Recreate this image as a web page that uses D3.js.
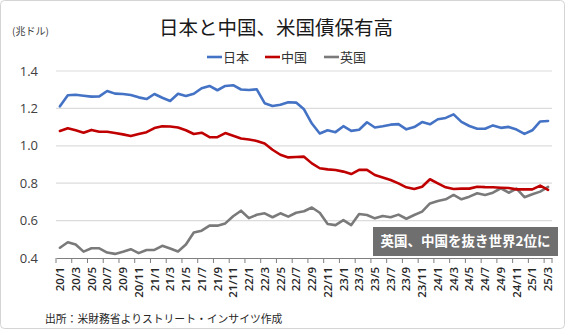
<!DOCTYPE html>
<html lang="ja">
<head>
<meta charset="utf-8">
<script src="https://cdn.jsdelivr.net/npm/d3@7/dist/d3.min.js"></script>
<style>
  html, body { margin: 0; padding: 0; background: #fff; }
  svg { display: block; font-family: "Noto Sans CJK JP", "Noto Sans", sans-serif; }
</style>
</head>
<body>
<svg id="chart" width="565" height="329"></svg>
<script>
// Monthly holdings of US Treasuries (trillion USD), 2020/1 – 2025/3
const months = [];
for (let yr = 20; yr <= 25; yr++) {
  for (let m = 1; m <= 12; m++) {
    if (yr === 25 && m > 3) break;
    months.push(yr + "/" + m);
  }
}

const japan = [
  1.211, 1.270, 1.273, 1.268, 1.263, 1.264, 1.293, 1.279, 1.277, 1.272, 1.259, 1.250,
  1.277, 1.257, 1.240, 1.278, 1.266, 1.278, 1.308, 1.320, 1.297, 1.320, 1.324, 1.301,
  1.298, 1.302, 1.228, 1.213, 1.220, 1.233, 1.231, 1.195, 1.119, 1.066, 1.083, 1.073,
  1.105, 1.080, 1.086, 1.126, 1.098, 1.105, 1.113, 1.116, 1.088, 1.100, 1.127, 1.115,
  1.142, 1.149, 1.168, 1.128, 1.106, 1.091, 1.091, 1.109, 1.096, 1.101, 1.087, 1.064,
  1.083, 1.130, 1.133
];
const china = [
  1.079, 1.094, 1.083, 1.070, 1.085, 1.075, 1.075, 1.068, 1.061, 1.052, 1.063, 1.073,
  1.095, 1.104, 1.103, 1.098, 1.083, 1.063, 1.070, 1.046, 1.046, 1.068, 1.054, 1.039,
  1.034, 1.026, 1.012, 0.979, 0.952, 0.938, 0.940, 0.942, 0.906, 0.880, 0.874, 0.871,
  0.862, 0.849, 0.871, 0.871, 0.844, 0.831, 0.817, 0.799, 0.778, 0.769, 0.781, 0.821,
  0.799, 0.778, 0.769, 0.771, 0.771, 0.781, 0.779, 0.778, 0.776, 0.774, 0.767, 0.767,
  0.767, 0.787, 0.764
];
const uk = [
  0.455, 0.484, 0.472, 0.434, 0.452, 0.452, 0.429, 0.422, 0.433, 0.447, 0.426, 0.443,
  0.443, 0.465, 0.451, 0.435, 0.472, 0.536, 0.546, 0.573, 0.573, 0.585, 0.623, 0.653,
  0.613, 0.631, 0.639, 0.618, 0.639, 0.621, 0.642, 0.650, 0.670, 0.642, 0.582, 0.576,
  0.603, 0.576, 0.635, 0.630, 0.612, 0.625, 0.618, 0.632, 0.610, 0.630, 0.648, 0.692,
  0.705, 0.714, 0.737, 0.714, 0.728, 0.746, 0.737, 0.749, 0.773, 0.749, 0.771, 0.725,
  0.741, 0.755, 0.780
];

const seriesNames = ["日本", "中国", "英国"];
const seriesColors = ["#4472C4", "#C00000", "#7A7A7A"];
const yTicks = [0.4, 0.6, 0.8, 1.0, 1.2, 1.4];

const titleText = "日本と中国、米国債保有高";
const unitText = "(兆ドル)";
const noteText = "英国、中国を抜き世界2位に";
const sourceText = "出所：米財務省よりストリート・インサイツ作成";

const svg = d3.select("#chart");
const W = 565, H = 329;
const plotLeft = 56, plotRight = 552, plotTop = 71, plotBottom = 258;

// outer frame
svg.append("rect")
  .attr("x", 0.5).attr("y", 0.5).attr("width", W - 1).attr("height", H - 1)
  .attr("rx", 4).attr("fill", "#fff").attr("stroke", "#d4d4d4");

const x = d3.scaleBand().domain(months).range([plotLeft, plotRight]).padding(0);
const y = d3.scaleLinear().domain([0.4, 1.4]).range([plotBottom, plotTop]);

// horizontal gridlines
svg.append("g")
  .selectAll("line")
  .data(yTicks.filter(d => d > 0.4))
  .join("line")
  .attr("x1", plotLeft).attr("x2", plotRight)
  .attr("y1", d => y(d)).attr("y2", d => y(d))
  .attr("stroke", "#dcdcdc").attr("stroke-width", 1.2);

// y axis labels
const yAxis = d3.axisLeft(y).tickValues(yTicks).tickFormat(d3.format(".1f")).tickSize(0).tickPadding(18);
const gy = svg.append("g").attr("transform", `translate(${plotLeft},0)`).call(yAxis);
gy.select(".domain").remove();
gy.selectAll("text")
  .attr("fill", "#404040")
  .style("font-family", "'Open Sans', 'Noto Sans', sans-serif")
  .style("font-size", "13px");

// x axis with labels every other month
const labelMonths = months.filter((d, i) => i % 2 === 0);
const xAxis = d3.axisBottom(x).tickValues(labelMonths).tickSize(0).tickPadding(0);
const gx = svg.append("g").attr("transform", `translate(0,${plotBottom})`).call(xAxis);
gx.select(".domain").attr("stroke", "#7f7f7f").attr("stroke-width", 1);
gx.selectAll("text")
  .attr("transform", "rotate(-90)")
  .attr("x", -9).attr("y", 0).attr("dy", "0.36em")
  .style("text-anchor", "end")
  .style("font-family", "'Open Sans', 'Noto Sans', sans-serif")
  .style("font-size", "11.5px")
  .style("font-weight", "600")
  .attr("fill", "#262626");

// tick marks on category boundaries
const tickPos = labelMonths.map(m => x(m)).concat([plotRight]);
gx.append("g").selectAll("line")
  .data(tickPos)
  .join("line")
  .attr("x1", d => d).attr("x2", d => d)
  .attr("y1", 0).attr("y2", 5)
  .attr("stroke", "#7f7f7f").attr("stroke-width", 1);

// lines
const line = d3.line()
  .x((d, i) => x(months[i]) + x.bandwidth() / 2)
  .y(d => y(d));

const allSeries = [uk, china, japan];
const allColors = [seriesColors[2], seriesColors[1], seriesColors[0]];
svg.append("g")
  .selectAll("path")
  .data(allSeries)
  .join("path")
  .attr("d", d => line(d))
  .attr("fill", "none")
  .attr("stroke", (d, i) => allColors[i])
  .attr("stroke-width", 2.6)
  .attr("stroke-linejoin", "round")
  .attr("stroke-linecap", "round");

// title & unit
svg.append("text")
  .attr("x", 276).attr("y", 35)
  .attr("text-anchor", "middle")
  .attr("fill", "#1a1a1a")
  .style("font-size", "19.5px")
  .text(titleText);

svg.append("text")
  .attr("x", 12).attr("y", 35)
  .attr("fill", "#404040")
  .style("font-size", "10px")
  .text(unitText);

// legend
const legendX = [207, 265, 324];
const lg = svg.append("g").selectAll("g")
  .data(seriesNames)
  .join("g")
  .attr("transform", (d, i) => `translate(${legendX[i]},57)`);
lg.append("line")
  .attr("x1", 0).attr("x2", 15).attr("y1", 0).attr("y2", 0)
  .attr("stroke", (d, i) => seriesColors[i]).attr("stroke-width", 2.6);
lg.append("text")
  .attr("x", 16).attr("y", 0).attr("dy", "0.36em")
  .attr("fill", "#333")
  .style("font-size", "13px")
  .text(d => d);

// callout box
svg.append("rect")
  .attr("x", 373).attr("y", 227).attr("width", 185).attr("height", 29)
  .attr("fill", "#6f6f6f");
svg.append("text")
  .attr("x", 465.5).attr("y", 241.5).attr("dy", "0.36em")
  .attr("text-anchor", "middle")
  .attr("fill", "#fff")
  .style("font-size", "13.5px")
  .style("font-weight", "bold")
  .text(noteText);

// source
svg.append("text")
  .attr("x", 45).attr("y", 323)
  .attr("fill", "#262626")
  .style("font-size", "10.8px")
  .text(sourceText);
</script>
</body>
</html>
